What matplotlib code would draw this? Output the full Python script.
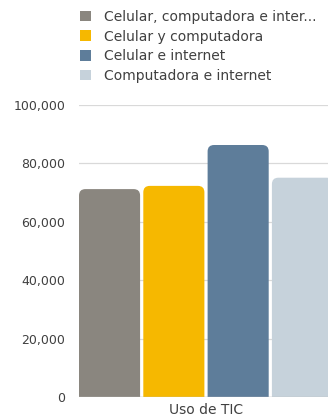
import matplotlib.pyplot as plt
from matplotlib.patches import FancyBboxPatch, Patch

# data
category = "Uso de TIC"
series = ["Celular, computadora e inter...", "Celular y computadora",
          "Celular e internet", "Computadora e internet"]
values = [71200, 72300, 86300, 75100]
colors = ["#8A867F", "#F6B800", "#5E7D9A", "#C6D2DB"]

plt.rcParams['font.family'] = ['DejaVu Sans']

fig = plt.figure(figsize=(3.28, 4.17), dpi=100)
ax = fig.add_axes([79 / 328, 20 / 417, 254 / 328, 292 / 417])

pos = list(range(len(values)))
bw = 0.95
bars = ax.bar(pos, values, width=bw, color=colors)

ax.set_xlim(-bw / 2, len(values) - 1 + bw / 2)
ax.set_ylim(0, 100000)

# rounded tops
asp = (100000 / 292) / ((len(values) - 1 + bw) / 254)
r = 0.10
for b, c in zip(bars, colors):
    b.set_visible(False)
    x0, w, h = b.get_x(), b.get_width(), b.get_height()
    p = FancyBboxPatch((x0, -30000), w, h + 30000,
                       boxstyle=f"round,pad=0,rounding_size={r}",
                       mutation_aspect=asp, facecolor=c, edgecolor='none',
                       zorder=2)
    ax.add_patch(p)

ax.set_yticks(range(0, 100001, 20000))
ax.set_yticklabels([f"{v:,}" for v in range(0, 100001, 20000)])
ax.set_xticks([(len(values) - 1) / 2])
ax.set_xticklabels([category])
ax.tick_params(length=0, labelsize=9, colors='#404040', pad=10)
ax.tick_params(axis='x', labelsize=10, pad=4)
ax.grid(axis='y', color='#D9D9D9', lw=0.9, zorder=0)
ax.set_axisbelow(True)
for s in ax.spines.values():
    s.set_visible(False)
ax.axhline(0, color='#BFBFBF', lw=1, zorder=3)

handles = [Patch(facecolor=c, edgecolor='none') for c in colors]
fig.legend(handles, series, loc='upper left', bbox_to_anchor=(80 / 328, 1 - 10 / 417),
           frameon=False, fontsize=10, handlelength=0.8, handleheight=0.8,
           handletextpad=0.95, labelspacing=0.4, labelcolor='#404040',
           borderpad=0, borderaxespad=0)

fig.savefig("out.png", dpi=100)
